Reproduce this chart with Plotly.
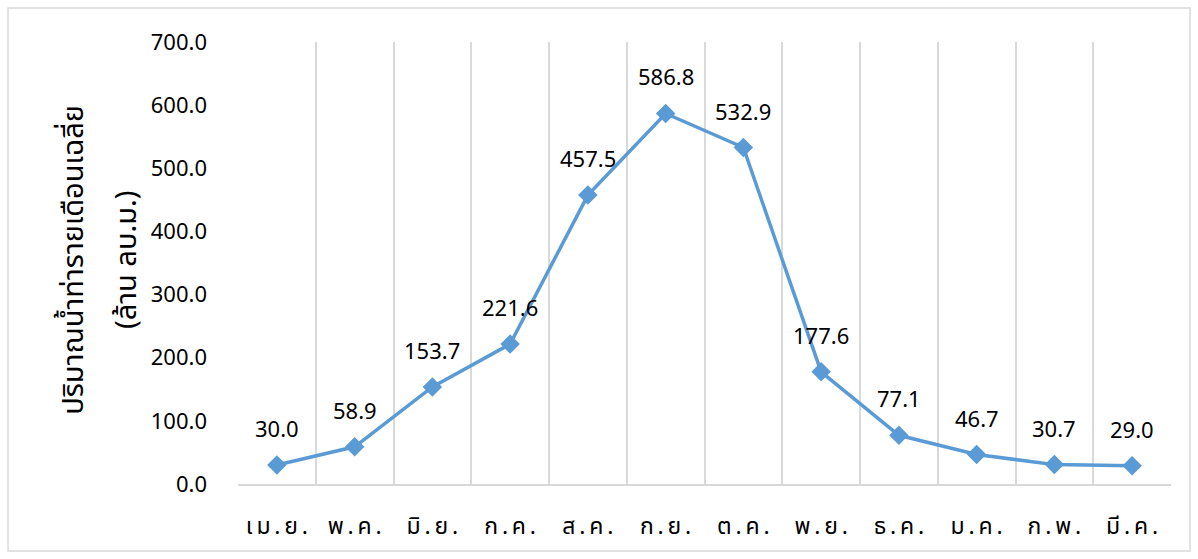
import re
import plotly.graph_objects as go

months = ["เม.ย.", "พ.ค.", "มิ.ย.", "ก.ค.", "ส.ค.", "ก.ย.", "ต.ค.", "พ.ย.", "ธ.ค.", "ม.ค.", "ก.พ.", "มี.ค."]
flow = [30.0, 58.9, 153.7, 221.6, 457.5, 586.8, 532.9, 177.6, 77.1, 46.7, 30.7, 29.0]
y_title_1 = "ปริมาณน้ำท่ารายเดือนเฉลี่ย"
y_title_2 = "(ล้าน ลบ.ม.)"

FONT = "Noto Sans, Noto Sans Thai, DejaVu Sans, sans-serif"
BLUE = "#5B9BD5"
GRID = "#D9D9D9"


def spaced(label):
    # split into grapheme clusters (keep Thai combining marks with their base)
    clusters = re.findall(r".[\u0E31\u0E34-\u0E3A\u0E47-\u0E4E]*", label)
    return "\u2009".join(clusters)


fig = go.Figure()
fig.add_trace(go.Scatter(
    x=months, y=flow, mode="lines+markers",
    line=dict(color=BLUE, width=3.5),
    marker=dict(symbol="diamond", size=15, color=BLUE),
    showlegend=False, hoverinfo="x+y",
))

for m, v in zip(months, flow):
    fig.add_annotation(x=m, y=v, text=f"{v:.1f}", showarrow=False,
                       yshift=37, font=dict(family=FONT, size=22, color="#000000"))

fig.add_annotation(x=-0.178, y=0.507, xref="paper", yref="paper", text=y_title_1,
                   textangle=-90, showarrow=False, xanchor="center", yanchor="middle",
                   font=dict(family=FONT, size=29, color="#000000"))
fig.add_annotation(x=-0.121, y=0.507, xref="paper", yref="paper", text=y_title_2,
                   textangle=-90, showarrow=False, xanchor="center", yanchor="middle",
                   font=dict(family=FONT, size=29, color="#000000"))

fig.add_shape(type="rect", xref="paper", yref="paper",
              x0=-0.2465, x1=1.0204, y0=-0.1516, y1=1.077,
              line=dict(color=GRID, width=1.5), fillcolor="rgba(0,0,0,0)", layer="below")

fig.update_layout(
    width=1198, height=559,
    margin=dict(l=238, r=27, t=42, b=75),
    plot_bgcolor="white", paper_bgcolor="white",
    font=dict(family=FONT, size=22, color="#000000"),
    xaxis=dict(
        type="category", tickson="boundaries", showgrid=True, gridcolor=GRID, gridwidth=1.5,
        showline=True, linecolor=GRID, linewidth=2, ticks="",
        tickmode="array", tickvals=months, ticktext=[spaced(m) for m in months],
        ticklabelstandoff=20, tickfont=dict(size=23),
        range=[-0.5, 11.5],
    ),
    yaxis=dict(
        range=[0, 700], dtick=100, tickformat=".1f", showgrid=False, zeroline=False,
        showline=False, ticks="", ticklabelstandoff=30, tickfont=dict(size=22),
    ),
)

fig.write_html("out.html", config={"displayModeBar": False},
               post_script="document.body.style.margin='0';")
